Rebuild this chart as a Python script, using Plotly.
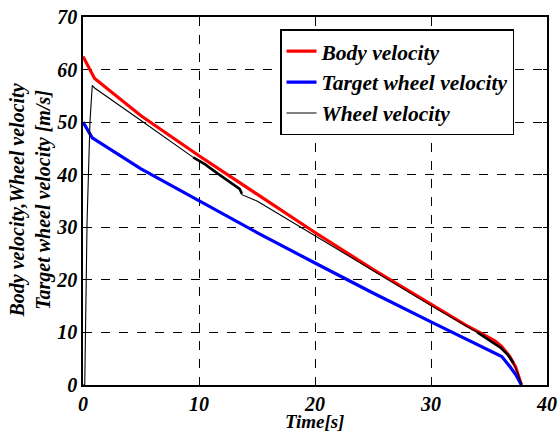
import plotly.graph_objects as go

# Body velocity
t_body = [0, 0.8, 1.0, 5, 10, 15, 20, 25, 30, 33, 34.5, 35.5, 36.1, 36.8, 37.3, 37.8]
v_body = [62.5, 59.0, 58.3, 51.2, 43.6, 36.3, 29.0, 22.0, 15.3, 11.4, 9.6, 8.4, 7.3, 5.4, 3.4, 0]

# Target wheel velocity
t_target = [0, 0.8, 5, 10, 15, 20, 25, 30, 33, 35.4, 36.1, 36.8, 37.3, 37.8]
v_target = [50.0, 47.0, 41.1, 35.0, 29.0, 23.2, 17.5, 12.0, 8.8, 6.3, 5.4, 3.5, 2.0, 0]

# Wheel velocity
t_wheel = [0, 0.15, 0.35, 0.6, 0.8, 1.0, 5, 9.5, 10.5, 11.5, 12.5, 13.5, 13.7, 15, 20, 25, 30, 34,
           35, 36, 36.6, 37.1, 37.5, 37.8]
v_wheel = [0, 0, 31.0, 50.0, 57.0, 56.5, 50.3, 43.3, 42.0, 40.4, 38.8, 37.3, 36.2, 35.0, 28.4, 21.8, 15.1, 10.0,
           8.6, 7.1, 5.8, 4.2, 2.2, 0]

# Chattering zones of the wheel velocity
t_chat1 = [9.5, 10.5, 11.5, 12.5, 13.5, 13.7]
v_chat1 = [43.3, 42.0, 40.4, 38.8, 37.3, 36.4]
t_chat2 = [34, 35, 36, 36.6, 37.1]
v_chat2 = [10.0, 8.6, 7.1, 5.8, 4.2]

x_ticks = [0, 10, 20, 30, 40]
y_ticks = [0, 10, 20, 30, 40, 50, 60, 70]

x_title = "Time[s]"
y_title_lines = ["Body velocity,Wheel velocity", "Target wheel velocity [m/s]"]

SERIF = "Liberation Serif, Times New Roman, Times, serif"


def bi(s):
    return "<b><i>" + s + "</i></b>"


fig = go.Figure()
fig.add_trace(go.Scatter(x=t_body, y=v_body, mode="lines", name=bi("Body velocity"),
                         line=dict(color="#ff0000", width=3.2)))
fig.add_trace(go.Scatter(x=t_target, y=v_target, mode="lines", name=bi("Target wheel velocity"),
                         line=dict(color="#0000ff", width=3.2)))
fig.add_trace(go.Scatter(x=t_wheel, y=v_wheel, mode="lines", name=bi("Wheel velocity"),
                         line=dict(color="#000000", width=1.1)))
fig.add_trace(go.Scatter(x=t_chat1, y=v_chat1, mode="lines", showlegend=False,
                         line=dict(color="#000000", width=2.6)))
fig.add_trace(go.Scatter(x=t_chat2, y=v_chat2, mode="lines", showlegend=False,
                         line=dict(color="#000000", width=2.6)))

axis_common = dict(
    showline=True, linecolor="black", linewidth=1.5, mirror="ticks",
    ticks="inside", ticklen=4, tickcolor="black",
    showgrid=True, gridcolor="black", griddash="dash", gridwidth=1,
    zeroline=False, automargin=False,
    tickfont=dict(family=SERIF, size=20, color="black"),
)

fig.update_layout(
    width=559, height=432,
    margin=dict(l=83, r=12, t=17, b=47, autoexpand=False),
    paper_bgcolor="white", plot_bgcolor="white",
    font=dict(family=SERIF, color="black"),
    xaxis=dict(range=[0, 40], tickvals=x_ticks, ticktext=[bi(str(v)) for v in x_ticks], **axis_common,
               ticklabelstandoff=0),
    yaxis=dict(range=[0, 70], tickvals=y_ticks, ticktext=[bi(str(v)) for v in y_ticks], **axis_common),
    legend=dict(x=0.4246, y=0.967, xanchor="left", yanchor="top",
                bgcolor="white", bordercolor="black", borderwidth=1.5,
                font=dict(family=SERIF, size=21.5, color="black"),
                tracegroupgap=0, itemwidth=30),
)

fig.add_annotation(text=bi(x_title), xref="paper", yref="paper", x=0.498, y=-0.1,
                   xanchor="center", yanchor="middle", showarrow=False,
                   font=dict(family=SERIF, size=19, color="black"))
fig.add_annotation(text="<br>".join(bi(s) for s in y_title_lines), xref="paper", yref="paper",
                   x=-0.1153, y=0.5, xanchor="center", yanchor="middle", textangle=-90,
                   showarrow=False, font=dict(family=SERIF, size=20, color="black"))

fig.write_html("out.html")
